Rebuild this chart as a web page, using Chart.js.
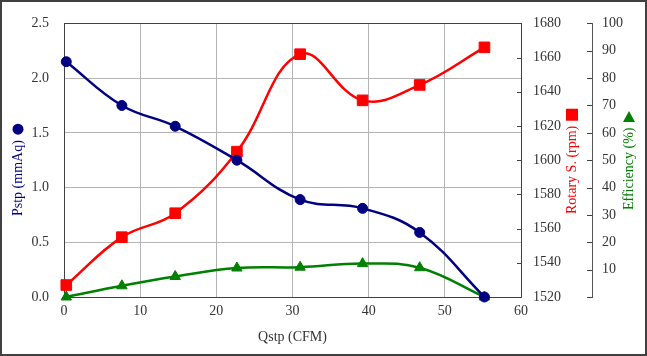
<!DOCTYPE html>
<html><head><meta charset="utf-8">
<script src="https://cdn.jsdelivr.net/npm/chart.js@4"></script>
<style>html,body{margin:0;padding:0;background:#fff;}#wrap{width:647px;height:356px;}</style>
</head><body><div id="wrap"><canvas id="c" width="647" height="356"></canvas></div>
<script>
// ---- data ----
const qstp = [0.3, 7.6, 14.6, 22.7, 31.0, 39.2, 46.7, 55.2];          // CFM
const pstp = [2.15, 1.75, 1.56, 1.25, 0.89, 0.81, 0.59, 0.0];          // mmAq
const rpm  = [1527, 1555, 1569, 1605, 1662, 1635, 1644, 1666];         // rpm
const eff  = [0.0, 4.1, 7.5, 10.6, 10.9, 12.2, 10.7, 0.0];             // %

const xTicks    = [0, 10, 20, 30, 40, 50, 60];
const pstpTicks = [0, 0.5, 1.0, 1.5, 2.0, 2.5];
const rpmTicks  = [1520, 1540, 1560, 1580, 1600, 1620, 1640, 1660, 1680];
const effTicks  = [0, 10, 20, 30, 40, 50, 60, 70, 80, 90, 100];

const titles = { x: 'Qstp (CFM)', y: 'Pstp (mmAq)', y1: 'Rotary S. (rpm)', y2: 'Efficiency (%)' };

const NAVY = '#000080', RED = '#ff0000', GREEN = '#008000', AXIS = '#404040', GRID = '#b4b4b4', TXT = '#333333';
const FONT = "'Liberation Serif', 'Times New Roman', serif";

Chart.defaults.font.family = FONT;
Chart.defaults.font.size = 14;
Chart.defaults.color = TXT;

const pts = ys => qstp.map((x, i) => ({ x: x, y: ys[i] }));
const setTicks = arr => (s => { s.ticks = arr.map(v => ({ value: v })); });

function drawMarker(ctx, kind, cx, cy, color) {
  ctx.fillStyle = color;
  ctx.beginPath();
  if (kind === 'circle') { ctx.arc(cx, cy, 5.5, 0, Math.PI * 2); }
  else if (kind === 'rect') { ctx.rect(cx - 6, cy - 6, 12, 12); }
  else { ctx.moveTo(cx, cy - 5.5); ctx.lineTo(cx + 6, cy + 5.5); ctx.lineTo(cx - 6, cy + 5.5); ctx.closePath(); }
  ctx.fill();
}

const extras = {
  id: 'extras',
  afterDraw(chart) {
    const ctx = chart.ctx, a = chart.chartArea;
    ctx.save();
    // plot top border
    ctx.strokeStyle = AXIS; ctx.lineWidth = 1;
    ctx.beginPath(); ctx.moveTo(a.left, Math.round(a.top) + 0.5); ctx.lineTo(a.right, Math.round(a.top) + 0.5); ctx.stroke();
    // inward tick marks on the two right axes
    const y1 = chart.scales.y1, y2 = chart.scales.y2;
    ctx.beginPath();
    y1.ticks.forEach(t => { const p = Math.round(y1.getPixelForValue(t.value)) + 0.5; ctx.moveTo(y1.left - 4, p); ctx.lineTo(y1.left, p); });
    y2.ticks.forEach(t => { const p = Math.round(y2.getPixelForValue(t.value)) + 0.5; ctx.moveTo(y2.left - 5, p); ctx.lineTo(y2.left, p); });
    ctx.stroke();
    // rotated y titles with their marker
    ctx.font = '14px ' + FONT;
    ctx.textBaseline = 'middle'; ctx.textAlign = 'left';
    const rot = (text, x, yStart, color, kind) => {
      const w = ctx.measureText(text).width;
      ctx.save(); ctx.translate(x, yStart); ctx.rotate(-Math.PI / 2);
      ctx.fillStyle = color; ctx.fillText(text, 0, 0); ctx.restore();
      drawMarker(ctx, kind, x, yStart - w - 11, color);
    };
    rot(titles.y, 18, 216, NAVY, 'circle');
    rot(titles.y1, 572, 214, RED, 'rect');
    rot(titles.y2, 629, 210, GREEN, 'tri');
    // outer frame
    ctx.strokeStyle = AXIS; ctx.lineWidth = 2;
    ctx.strokeRect(1, 1, chart.width - 2, chart.height - 2);
    ctx.restore();
  }
};

new Chart(document.getElementById('c'), {
  type: 'line',
  data: {
    datasets: [
      { label: 'Pstp', data: pts(pstp), yAxisID: 'y', borderColor: NAVY, backgroundColor: NAVY,
        pointStyle: 'circle', pointRadius: 5, pointBorderWidth: 1, borderWidth: 2.5, tension: 0.4, clip: false, order: 1 },
      { label: 'Rotary S.', data: pts(rpm), yAxisID: 'y1', borderColor: RED, backgroundColor: RED,
        pointStyle: 'rect', pointRadius: 7.5, pointBorderWidth: 1, borderWidth: 2.5, tension: 0.4, clip: false, order: 2 },
      { label: 'Efficiency', data: pts(eff), yAxisID: 'y2', borderColor: GREEN, backgroundColor: GREEN,
        pointStyle: 'triangle', pointRadius: 6, pointBorderWidth: 1, borderWidth: 2.5, tension: 0.4, clip: false, order: 3 }
    ]
  },
  options: {
    responsive: false, animation: false, devicePixelRatio: 1,
    layout: { padding: { top: 18, left: 0, right: 0, bottom: 0 } },
    plugins: { legend: { display: false }, tooltip: { enabled: false } },
    scales: {
      x: { type: 'linear', min: 0, max: 60, afterBuildTicks: setTicks(xTicks),
        grid: { color: GRID, drawTicks: false }, border: { color: AXIS },
        ticks: { padding: 6, color: TXT, callback: v => String(v) },
        title: { display: true, text: titles.x, color: TXT, font: { size: 14 }, padding: { top: 0, bottom: 10 } },
        afterFit: s => { s.height = 59; } },
      y: { position: 'left', min: 0, max: 2.5, afterBuildTicks: setTicks(pstpTicks),
        grid: { color: GRID, drawTicks: false }, border: { color: AXIS },
        ticks: { padding: 15, color: TXT, callback: v => Number(v).toFixed(1) },
        afterFit: s => { s.width = 64; } },
      y1: { position: 'right', min: 1520, max: 1680, afterBuildTicks: setTicks(rpmTicks),
        grid: { drawOnChartArea: false, drawTicks: false }, border: { color: AXIS },
        ticks: { padding: 12, color: TXT, callback: v => String(v) },
        afterFit: s => { s.width = 71; } },
      y2: { position: 'right', min: 0, max: 100, afterBuildTicks: setTicks(effTicks),
        grid: { drawOnChartArea: false, drawTicks: false }, border: { color: '#555555' },
        ticks: { padding: 10, color: TXT, callback: v => (v === 0 ? '' : String(v)) },
        afterFit: s => { s.width = 55; } }
    }
  },
  plugins: [extras]
});
</script></body></html>
